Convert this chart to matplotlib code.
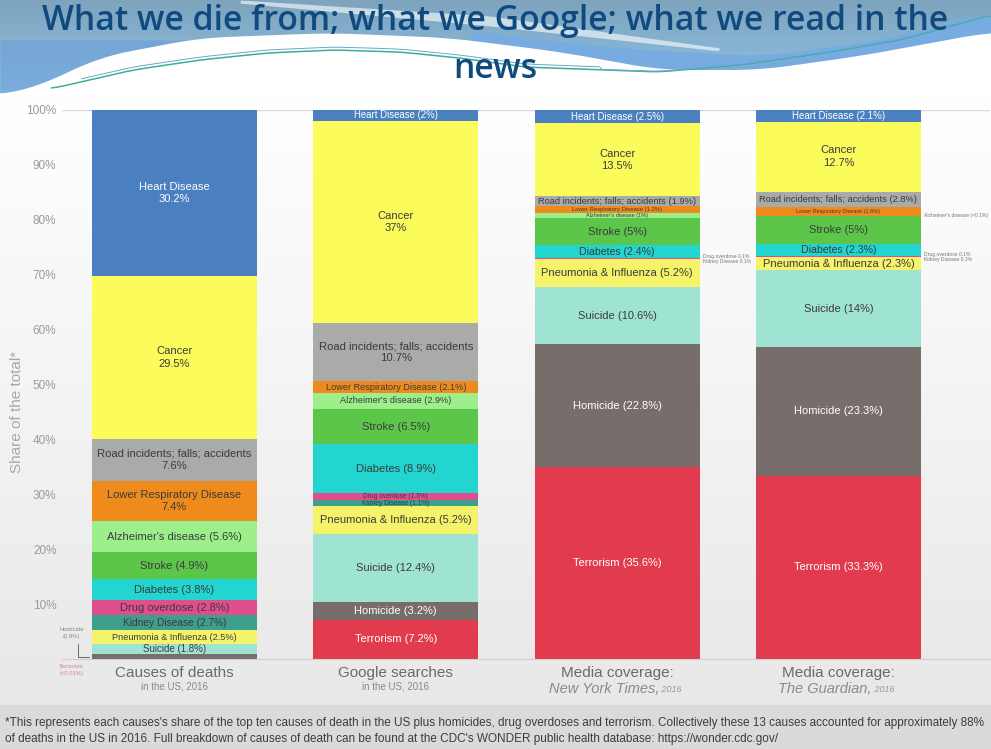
import numpy as np
import matplotlib.pyplot as plt
from matplotlib.colors import to_rgb

# stacking order, bottom to top
causes = ["Terrorism", "Homicide", "Suicide", "Pneumonia & Influenza", "Kidney Disease",
          "Drug overdose", "Diabetes", "Stroke", "Alzheimer's disease",
          "Lower Respiratory Disease", "Road incidents; falls; accidents", "Cancer", "Heart Disease"]

deaths = [0.01, 0.9, 1.8, 2.5, 2.7, 2.8, 3.8, 4.9, 5.6, 7.4, 7.6, 29.5, 30.2]
google = [7.2, 3.2, 12.4, 5.2, 1.1, 1.3, 8.9, 6.5, 2.9, 2.1, 10.7, 37, 2]
nyt = [35.6, 22.8, 10.6, 5.2, 0.1, 0.1, 2.4, 5, 1, 1.2, 1.9, 13.5, 2.5]
guardian = [33.3, 23.3, 14, 2.3, 0.1, 0.1, 2.3, 5, 0.05, 1.6, 2.8, 12.7, 2.1]

deaths_labels = ["", "", "Suicide (1.8%)", "Pneumonia & Influenza (2.5%)", "Kidney Disease (2.7%)",
                 "Drug overdose (2.8%)", "Diabetes (3.8%)", "Stroke (4.9%)", "Alzheimer's disease (5.6%)",
                 "Lower Respiratory Disease\n7.4%", "Road incidents; falls; accidents\n7.6%",
                 "Cancer\n29.5%", "Heart Disease\n30.2%"]
google_labels = ["Terrorism (7.2%)", "Homicide (3.2%)", "Suicide (12.4%)", "Pneumonia & Influenza (5.2%)",
                 "Kidney Disease (1.1%)", "Drug overdose (1.3%)", "Diabetes (8.9%)", "Stroke (6.5%)",
                 "Alzheimer's disease (2.9%)", "Lower Respiratory Disease (2.1%)",
                 "Road incidents; falls; accidents\n10.7%", "Cancer\n37%", "Heart Disease (2%)"]
nyt_labels = ["Terrorism (35.6%)", "Homicide (22.8%)", "Suicide (10.6%)", "Pneumonia & Influenza (5.2%)",
              "", "", "Diabetes (2.4%)", "Stroke (5%)", "Alzheimer's disease (1%)",
              "Lower Respiratory Disease (1.2%)", "Road incidents; falls; accidents (1.9%)",
              "Cancer\n13.5%", "Heart Disease (2.5%)"]
guardian_labels = ["Terrorism (33.3%)", "Homicide (23.3%)", "Suicide (14%)", "Pneumonia & Influenza (2.3%)",
                   "", "", "Diabetes (2.3%)", "Stroke (5%)", "",
                   "Lower Respiratory Disease (1.6%)", "Road incidents; falls; accidents (2.8%)",
                   "Cancer\n12.7%", "Heart Disease (2.1%)"]

# label font sizes (style only)
deaths_fs = [8, 8, 7, 6.6, 7.3, 8, 8, 8, 8, 8, 8.1, 8, 8]
google_fs = [8, 8, 8, 8, 4.8, 4.8, 8, 8, 6.6, 6.6, 8.1, 8, 6.9]
nyt_fs = [8, 8, 8, 8, 4, 4, 7.6, 8, 4, 4.2, 6.7, 8, 7]
guardian_fs = [8, 8, 8, 8, 4, 4, 7.6, 8, 4, 4, 6.7, 8, 7]

columns = [deaths, google, nyt, guardian]
column_labels = [deaths_labels, google_labels, nyt_labels, guardian_labels]
column_fs = [deaths_fs, google_fs, nyt_fs, guardian_fs]

colors = ["#e23b4e", "#776d6a", "#9fe3d3", "#f4f36a", "#3e9f8c", "#df4f8d", "#22d5d0",
          "#5cc64a", "#9cef8b", "#ef8b1c", "#a8aba7", "#fbfb5c", "#4a7fc0"]
white_text = ["Terrorism", "Homicide", "Heart Disease"]

fig = plt.figure(figsize=(9.91, 7.49), dpi=100)

# ---- background: header swoosh, white panel, grey footer
bg = fig.add_axes([0, 0, 1, 1], zorder=-5)
bg.set_xlim(0, 991)
bg.set_ylim(749, 0)
bg.axis("off")
g = np.linspace(0, 1, 256)
c_top = np.array(to_rgb("#7ea3bd"))
c_bot = np.array(to_rgb("#8fc4e6"))
hdr = c_top[None, :] * (1 - g[:, None]) + c_bot[None, :] * g[:, None]
bg.imshow(hdr[:, None, :].repeat(2, axis=1), extent=[0, 991, 95, 0], aspect="auto", zorder=0)


def smooth_curve(px, py, xs, k=15):
    y = np.interp(xs, px, py)
    pad = np.pad(y, k, mode="edge")
    return np.convolve(pad, np.ones(2 * k + 1) / (2 * k + 1), mode="valid")


xs = np.linspace(0, 991, 500)
# darker blue band on the right
band_u = smooth_curve([480, 620, 760, 880, 991], [32, 48, 56, 40, 12], xs)
white_b = smooth_curve([0, 35, 100, 200, 330, 450, 560, 660, 760, 860, 991],
                       [95, 88, 57, 38, 33, 38, 52, 70, 70, 56, 32], xs)
m = xs > 470
bg.fill_between(xs[m], band_u[m], white_b[m], color="#78ace0", zorder=1, linewidth=0)
# left side lower blue
lm = xs < 480
bg.fill_between(xs[lm], 40, white_b[lm], color="#6d9fd6", alpha=0.6, zorder=1, linewidth=0)
bg.fill_between(xs, white_b, 96, color="white", zorder=2, linewidth=0)
# soft white streak
sm_x = xs[(xs > 240) & (xs < 720)]
st_u = smooth_curve([240, 491, 720], [0, 16, 48], sm_x, k=5)
st_l = smooth_curve([240, 491, 720], [3, 26, 51], sm_x, k=5)
bg.fill_between(sm_x, st_u, st_l, color="white", alpha=0.6, zorder=1, linewidth=0)
# thin teal lines
lx = xs[xs > 50]
ly = smooth_curve([50, 133, 200, 267, 333, 400, 460, 524, 658, 740, 824, 900, 991],
                  [89, 70, 60, 53, 50, 52, 58, 67, 72, 65, 53, 40, 15], lx, k=6)
bg.plot(lx, ly, color="#3aae9c", lw=1.1, zorder=3)
bg.plot(lx[lx > 80], ly[lx > 80] - 3 + 2.5 * (lx[lx > 80] > 600), color="#6aa6cc", lw=0.7, zorder=3)

panel = np.linspace(1.0, 0.91, 256)
panel_img = np.stack([panel, panel, panel], axis=-1)[:, None, :].repeat(2, axis=1)
bg.imshow(panel_img, extent=[0, 991, 705, 96], aspect="auto", zorder=0)
bg.fill_between([0, 991], 705, 749, color="#dadada", zorder=0)

fig.text(0.5, 1 - 21 / 749, "What we die from; what we Google; what we read in the",
         ha="center", va="center", fontsize=24.3, color="#0e4a7e", family="Open Sans", fontweight="semibold")
fig.text(0.5, 1 - 69 / 749, "news", ha="center", va="center", fontsize=24.3, color="#0e4a7e",
         family="Open Sans", fontweight="semibold")

# ---- chart
ax = fig.add_axes([62 / 991, 1 - 659 / 749, (990 - 62) / 991, (659 - 110) / 749])
ax.patch.set_alpha(0)
width = 0.746
for i, vals in enumerate(columns):
    vals = np.array(vals, dtype=float)
    share = vals / vals.sum() * 100
    bottom = np.concatenate([[0], np.cumsum(share)[:-1]])
    ax.bar(i, share, width, bottom=bottom, color=colors, linewidth=0, zorder=2)
    for j, lab in enumerate(column_labels[i]):
        if not lab:
            continue
        tc = "white" if causes[j] in white_text else "#3b3b3b"
        ax.text(i, bottom[j] + share[j] / 2, lab, ha="center", va="center", fontsize=column_fs[i][j],
                color=tc, family="Liberation Sans", linespacing=1.3, zorder=3)

ax.set_xlim(-0.508, 3.685)
ax.set_ylim(0, 100)
ax.set_yticks(range(10, 101, 10))
ax.set_yticklabels([f"{t}%" for t in range(10, 101, 10)], color="#9a9a9a", fontsize=8.5,
                   family="Liberation Sans")
ax.tick_params(axis="y", length=0, pad=4)
ax.set_xticks([])
for s in ["left", "right", "top"]:
    ax.spines[s].set_visible(False)
ax.spines["bottom"].set_color("#cfcfcf")
ax.axhline(100, color="#d8d8d8", lw=1, zorder=1)
ax.set_ylabel("Share of the total*", color="#a8a8a8", fontsize=11, family="Liberation Sans")
ax.yaxis.set_label_coords(-38 / 928, (659 - 412) / 549)

# small annotations outside bars
sm = dict(fontsize=3.6, color="#777777", family="Liberation Sans", va="center")
ax.text(-0.465, 4.8, "Homicide\n(0.9%)", ha="center", fontsize=4.2, color="#888888",
        family="Liberation Sans", va="center", linespacing=1.5)
ax.plot([-0.435, -0.435, -0.385], [2.8, 0.45, 0.45], color="#555555", lw=0.6, clip_on=False)
ax.text(-0.465, -2.0, "Terrorism\n(<0.01%)", ha="center", fontsize=4.2, color="#e07a90",
        family="Liberation Sans", va="center", linespacing=1.5, clip_on=False)

for i, vals, extra in [(2, nyt, []), (3, guardian, [8])]:
    vals = np.array(vals, dtype=float)
    share = vals / vals.sum() * 100
    cum = np.cumsum(share)
    x0 = i + width / 2 + 0.015
    ax.text(x0, cum[5] + 0.35, "Drug overdose 0.1%", ha="left", **sm)
    ax.text(x0, cum[5] - 0.55, "Kidney Disease 0.1%", ha="left", **sm)
    for j in extra:
        ax.text(x0, cum[j], "Alzheimer's disease (<0.1%)", ha="left", **sm)

# category labels
names = ["Causes of deaths", "Google searches", "Media coverage:", "Media coverage:"]
subs = ["in the US, 2016", "in the US, 2016"]
papers = ["New York Times,", "The Guardian,"]
for i, n in enumerate(names):
    ax.text(i, -2.6, n, ha="center", va="center", fontsize=11, color="#6a6a6a",
            family="Liberation Sans", clip_on=False)
for i, s in enumerate(subs):
    ax.text(i, -5.1, s, ha="center", va="center", fontsize=7, color="#8a8a8a",
            family="Liberation Sans", clip_on=False)
for k, p in enumerate(papers):
    t = ax.text(2 + k - 0.06, -5.5, p, ha="center", va="center", fontsize=10.5, color="#8a8a8a",
                family="Liberation Sans", style="italic", clip_on=False)
    ax.annotate(" 2016", xy=(1, 0.15), xycoords=t, ha="left", va="bottom", fontsize=6.5,
                color="#9a9a9a", family="Liberation Sans", style="italic")

footer = ("*This represents each causes's share of the top ten causes of death in the US plus homicides, "
          "drug overdoses and terrorism. Collectively these 13 causes accounted for approximately 88%\n"
          "of deaths in the US in 2016. Full breakdown of causes of death can be found at the CDC's "
          "WONDER public health database: https://wonder.cdc.gov/")
fig.text(5 / 991, 1 - 731 / 749, footer, ha="left", va="center", fontsize=8.5, color="#3c3c3c",
         family="Liberation Sans", linespacing=1.5)

fig.savefig("out.png", dpi=100)
